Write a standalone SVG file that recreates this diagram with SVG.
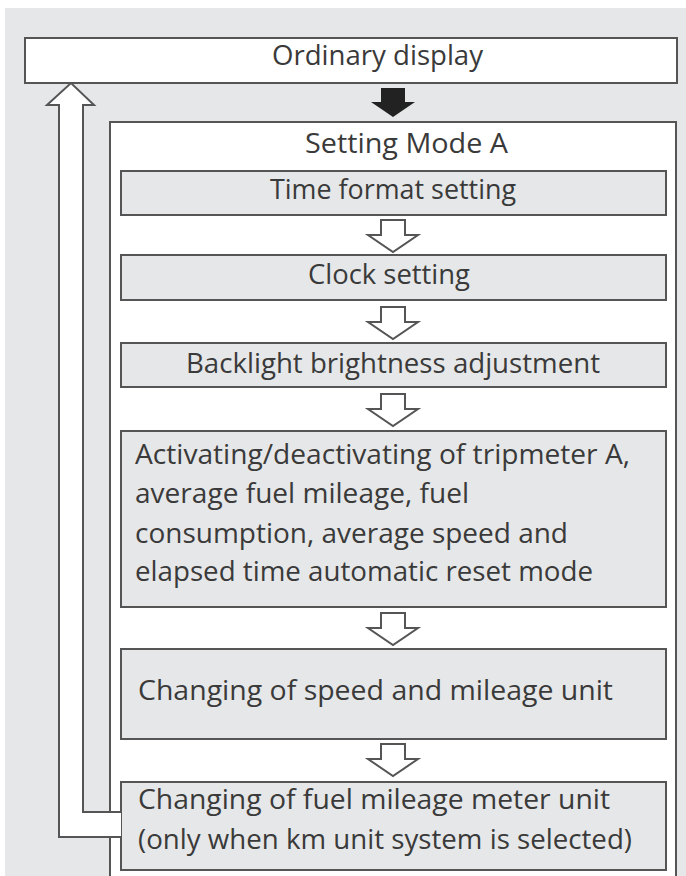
<svg xmlns="http://www.w3.org/2000/svg" width="686" height="876" viewBox="0 0 686 876">
<style>
.bg{fill:#e6e7e8}
.box{fill:#e6e7e8;stroke:#555;stroke-width:2}
.wbox{fill:#fff;stroke:#555;stroke-width:2}
.t{font-family:"Open Sans","Noto Sans",sans-serif;font-size:27px;fill:#3a3a3a}
.ha{fill:#fff;stroke:#555;stroke-width:2;stroke-linejoin:miter}
</style>
<defs>
<polygon id="harrow" points="-12,0 12,0 12,15 25,15 0,32 -25,15 -12,15"/>
</defs>
<rect class="bg" x="5" y="8" width="681" height="868"/>
<g id="ordinary">
<rect class="wbox" x="25" y="38" width="652" height="45"/>
<text class="t" x="272" y="65" textLength="211" lengthAdjust="spacingAndGlyphs">Ordinary display</text>
</g>
<g id="modeA">
<rect class="wbox" x="110" y="122" width="566" height="760"/>
<text class="t" x="305" y="153" textLength="203" lengthAdjust="spacingAndGlyphs">Setting Mode A</text>
</g>
<g id="timeformat">
<rect class="box" x="121" y="171" width="545" height="44"/>
<text class="t" x="270" y="199" textLength="246" lengthAdjust="spacingAndGlyphs">Time format setting</text>
</g>
<g id="clock">
<rect class="box" x="121" y="255" width="545" height="45"/>
<text class="t" x="308" y="284" textLength="162" lengthAdjust="spacingAndGlyphs">Clock setting</text>
</g>
<g id="backlight">
<rect class="box" x="121" y="343" width="545" height="44"/>
<text class="t" x="186" y="373" textLength="414" lengthAdjust="spacingAndGlyphs">Backlight brightness adjustment</text>
</g>
<g id="activating">
<rect class="box" x="121" y="431" width="545" height="176"/>
<text class="t" x="135" y="464" textLength="495" lengthAdjust="spacingAndGlyphs">Activating/deactivating of tripmeter A,</text>
<text class="t" x="135" y="503" textLength="334" lengthAdjust="spacingAndGlyphs">average fuel mileage, fuel</text>
<text class="t" x="135" y="543" textLength="433" lengthAdjust="spacingAndGlyphs">consumption, average speed and</text>
<text class="t" x="135" y="581" textLength="458" lengthAdjust="spacingAndGlyphs">elapsed time automatic reset mode</text>
</g>
<g id="speed">
<rect class="box" x="121" y="649" width="545" height="90"/>
<text class="t" x="138" y="700" textLength="475" lengthAdjust="spacingAndGlyphs">Changing of speed and mileage unit</text>
</g>
<g id="fuel">
<rect class="box" x="121" y="782" width="545" height="88"/>
<text class="t" x="138" y="809" textLength="472" lengthAdjust="spacingAndGlyphs">Changing of fuel mileage meter unit</text>
<text class="t" x="138" y="849" textLength="494" lengthAdjust="spacingAndGlyphs">(only when km unit system is selected)</text>
</g>
<g id="connectors">
<polygon fill="#222" points="381,88 405,88 405,102 415,102 393,117 371,102 381,102"/>
<use href="#harrow" class="ha" x="393" y="220"/>
<use href="#harrow" class="ha" x="393" y="307"/>
<use href="#harrow" class="ha" x="393" y="394"/>
<use href="#harrow" class="ha" x="393" y="613"/>
<use href="#harrow" class="ha" x="393" y="744"/>
<polyline class="ha" points="121,812 83,812 83,105 94,105 71,83 47,105 59,105 59,837 121,837"/>
<rect x="109" y="813" width="12" height="23" fill="#fff"/>
</g>
</svg>
